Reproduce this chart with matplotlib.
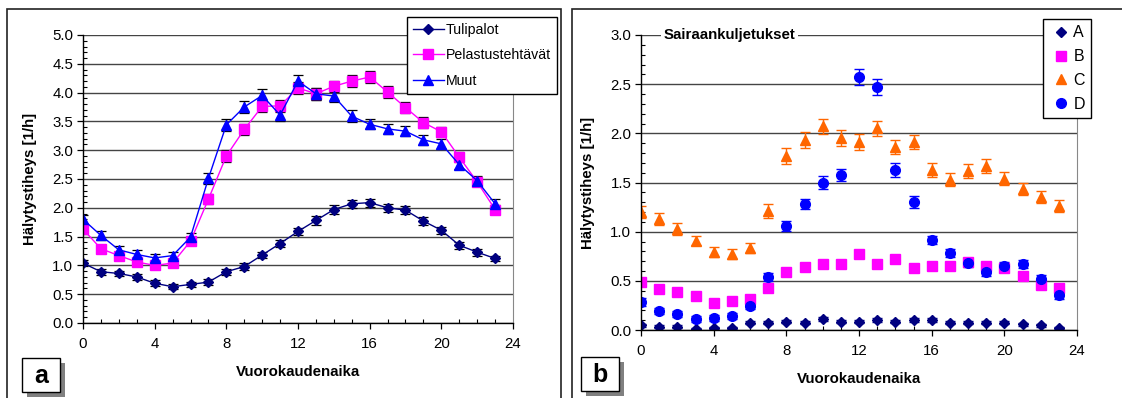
import numpy as np
import matplotlib
matplotlib.use("Agg")
import matplotlib.pyplot as plt
from matplotlib.patches import Rectangle
from matplotlib.ticker import MultipleLocator

plt.rcParams["font.family"] = ["Liberation Sans", "DejaVu Sans"]

W, H = 1122, 398

hours = list(range(24))

# hälytystiheys per tunti (a)
tulipalot = [1.04, 0.89, 0.86, 0.80, 0.69, 0.63, 0.67, 0.71, 0.89, 0.98, 1.18, 1.38,
             1.59, 1.78, 1.97, 2.07, 2.09, 2.00, 1.96, 1.77, 1.61, 1.35, 1.23, 1.12]
tulipalot_err = [0.05, 0.05, 0.05, 0.05, 0.05, 0.04, 0.05, 0.05, 0.05, 0.06, 0.06, 0.06,
                 0.06, 0.07, 0.07, 0.07, 0.07, 0.07, 0.07, 0.07, 0.06, 0.06, 0.06, 0.05]
pelastus = [1.63, 1.29, 1.17, 1.06, 1.00, 1.04, 1.42, 2.15, 2.90, 3.36, 3.76, 3.77,
            4.08, 3.98, 4.11, 4.20, 4.27, 4.01, 3.74, 3.48, 3.32, 2.88, 2.45, 1.97]
pelastus_err = [0.08, 0.07, 0.07, 0.06, 0.06, 0.06, 0.07, 0.09, 0.10, 0.10, 0.10, 0.10,
                0.10, 0.10, 0.10, 0.10, 0.11, 0.10, 0.10, 0.09, 0.09, 0.09, 0.08, 0.07]
muut = [1.80, 1.52, 1.27, 1.19, 1.13, 1.17, 1.49, 2.51, 3.44, 3.75, 3.95, 3.61,
        4.20, 3.98, 3.94, 3.59, 3.45, 3.37, 3.33, 3.18, 3.11, 2.75, 2.47, 2.07]
muut_err = [0.08, 0.08, 0.07, 0.07, 0.07, 0.07, 0.08, 0.10, 0.10, 0.10, 0.11, 0.10,
            0.11, 0.10, 0.10, 0.10, 0.09, 0.09, 0.09, 0.09, 0.09, 0.08, 0.08, 0.08]

# sairaankuljetukset kiireellisyysluokittain (b)
s_a = [0.05, 0.035, 0.035, 0.01, 0.025, 0.02, 0.075, 0.075, 0.085, 0.075, 0.11, 0.085,
       0.085, 0.10, 0.085, 0.10, 0.10, 0.075, 0.075, 0.075, 0.075, 0.06, 0.05, 0.02]
s_a_err = [0.015, 0.015, 0.015, 0.01, 0.01, 0.01, 0.015, 0.015, 0.015, 0.015, 0.02, 0.015,
           0.015, 0.02, 0.015, 0.02, 0.02, 0.015, 0.015, 0.015, 0.015, 0.015, 0.015, 0.01]
s_b = [0.49, 0.42, 0.39, 0.345, 0.275, 0.29, 0.32, 0.43, 0.59, 0.64, 0.67, 0.67,
       0.77, 0.67, 0.72, 0.63, 0.65, 0.65, 0.69, 0.65, 0.63, 0.55, 0.46, 0.43]
s_b_err = [0.04, 0.03, 0.03, 0.03, 0.03, 0.03, 0.03, 0.04, 0.04, 0.04, 0.04, 0.04,
           0.04, 0.04, 0.04, 0.04, 0.04, 0.04, 0.04, 0.04, 0.04, 0.04, 0.04, 0.04]
s_c = [1.20, 1.13, 1.03, 0.91, 0.79, 0.77, 0.83, 1.21, 1.77, 1.93, 2.07, 1.95,
       1.91, 2.05, 1.86, 1.91, 1.63, 1.53, 1.62, 1.67, 1.54, 1.43, 1.35, 1.26]
s_c_err = [0.06, 0.06, 0.06, 0.05, 0.05, 0.05, 0.05, 0.07, 0.08, 0.08, 0.08, 0.08,
           0.08, 0.08, 0.07, 0.07, 0.07, 0.07, 0.07, 0.07, 0.07, 0.06, 0.06, 0.06]
s_d = [0.285, 0.19, 0.165, 0.11, 0.125, 0.14, 0.245, 0.535, 1.06, 1.28, 1.50, 1.575,
       2.57, 2.47, 1.63, 1.30, 0.915, 0.78, 0.68, 0.59, 0.655, 0.667, 0.52, 0.355]
s_d_err = [0.04, 0.03, 0.03, 0.03, 0.03, 0.03, 0.03, 0.04, 0.05, 0.05, 0.07, 0.06,
           0.08, 0.08, 0.07, 0.06, 0.04, 0.04, 0.04, 0.04, 0.04, 0.04, 0.04, 0.04]

NAVY, MAGENTA, BLUE, ORANGE = "#000080", "#FF00FF", "#0000FF", "#FF6600"


def px_axes(fig, left, top, right, bottom):
    return fig.add_axes([left / W, 1 - bottom / H, (right - left) / W, (bottom - top) / H])


def style_axes(ax, ymax):
    ax.set_xlim(0, 24)
    ax.set_ylim(0, ymax)
    ax.xaxis.set_major_locator(MultipleLocator(4))
    ax.xaxis.set_minor_locator(MultipleLocator(1))
    ax.yaxis.set_major_locator(MultipleLocator(0.5))
    ax.yaxis.set_minor_locator(MultipleLocator(0.1))
    ax.yaxis.set_major_formatter(matplotlib.ticker.FormatStrFormatter("%.1f"))
    ax.tick_params(axis="both", which="major", direction="out", length=4, width=0.9,
                   labelsize=10.8, color="black")
    ax.tick_params(axis="x", which="major", pad=6)
    ax.tick_params(axis="y", which="major", pad=3)
    ax.tick_params(axis="both", which="minor", direction="in", length=3, width=0.8)
    ax.spines["top"].set_visible(False)
    ax.spines["right"].set_color("#888888")
    ax.spines["left"].set_linewidth(1.0)
    ax.spines["bottom"].set_linewidth(1.0)
    ax.grid(axis="y", which="major", color="#444444", linewidth=1.0)
    ax.set_axisbelow(True)
    ax.set_xlabel("Vuorokaudenaika", fontsize=10.8, fontweight="bold", labelpad=10)
    ax.set_ylabel("Hälytystiheys [1/h]", fontsize=10.8, fontweight="bold", labelpad=11)


def label_box(fig, x, y, text):
    w, h, off = 38, 34, 5
    fig.add_artist(Rectangle(((x + off) / W, 1 - (y + h + off) / H), w / W, h / H,
                             transform=fig.transFigure, facecolor="#808080", edgecolor="none"))
    fig.add_artist(Rectangle((x / W, 1 - (y + h) / H), w / W, h / H,
                             transform=fig.transFigure, facecolor="white", edgecolor="black",
                             linewidth=1.0))
    fig.text((x + w / 2) / W, 1 - (y + h / 2 + 1) / H, text, fontsize=18, fontweight="bold",
             ha="center", va="center")


fig = plt.figure(figsize=(W / 100, H / 100), dpi=100)

# panel frames
fig.add_artist(Rectangle((7 / W, -0.1), (561 - 7) / W, 1.1 - 9 / H, transform=fig.transFigure,
                         facecolor="none", edgecolor="#222222", linewidth=1.2))
fig.add_artist(Rectangle((572 / W, -0.1), 0.6, 1.1 - 9 / H, transform=fig.transFigure,
                         facecolor="none", edgecolor="#222222", linewidth=1.2))

# (a) tulipalot, pelastustehtävät, muut
ax1 = px_axes(fig, 83, 35, 513, 323)
style_axes(ax1, 5.0)
ax1.errorbar(hours, tulipalot, yerr=tulipalot_err, color=NAVY, marker="D", markersize=5.5,
             linewidth=1.0, ecolor="black", elinewidth=0.9, capsize=3.5, capthick=0.9,
             label="Tulipalot")
ax1.errorbar(hours, pelastus, yerr=pelastus_err, color=MAGENTA, marker="s", markersize=7,
             linewidth=1.0, ecolor="black", elinewidth=0.9, capsize=3.5, capthick=0.9,
             label="Pelastustehtävät")
ax1.errorbar(hours, muut, yerr=muut_err, color=BLUE, marker="^", markersize=7.5,
             linewidth=1.0, ecolor="black", elinewidth=0.9, capsize=3.5, capthick=0.9,
             label="Muut")
h1, l1 = ax1.get_legend_handles_labels()
leg1 = ax1.legend([h[0] for h in h1], l1, loc="upper left",
                  bbox_to_anchor=(407 / W, 1 - 17 / H), bbox_transform=fig.transFigure,
                  fontsize=10.2, frameon=True, fancybox=False, framealpha=1,
                  edgecolor="black", borderpad=0.4, labelspacing=0.82,
                  handlelength=2.2, handletextpad=0.15, borderaxespad=0)
leg1.get_frame().set_linewidth(1.0)
leg1.set_zorder(10)

# (b) sairaankuljetukset
ax2 = px_axes(fig, 641, 35, 1077, 330)
style_axes(ax2, 3.0)
for vals, errs, col, mk, ms, name in [
    (s_a, s_a_err, NAVY, "D", 5.5, "A"),
    (s_b, s_b_err, MAGENTA, "s", 7, "B"),
    (s_c, s_c_err, ORANGE, "^", 7.5, "C"),
    (s_d, s_d_err, BLUE, "o", 7, "D"),
]:
    ax2.errorbar(hours, vals, yerr=errs, color=col, marker=mk, markersize=ms, linestyle="none",
                 elinewidth=1.0, capsize=3.5, capthick=1.0, label=name)
h2, l2 = ax2.get_legend_handles_labels()
leg2 = ax2.legend([h[0] for h in h2], l2, loc="upper left",
                  bbox_to_anchor=(1043 / W, 1 - 19 / H), bbox_transform=fig.transFigure,
                  fontsize=11.5, frameon=True, fancybox=False, framealpha=1,
                  edgecolor="black", borderpad=0.4, labelspacing=0.55,
                  handlelength=1.4, handletextpad=0.1, borderaxespad=0, numpoints=1)
leg2.get_frame().set_linewidth(1.0)
leg2.set_zorder(10)
ax2.text(1.25, 3.0, "Sairaankuljetukset", fontsize=10.8, fontweight="bold", ha="left",
         va="center", zorder=5,
         bbox=dict(facecolor="white", edgecolor="none", pad=2))

label_box(fig, 22, 358, "a")
label_box(fig, 581, 357, "b")

fig.savefig("out.png", dpi=100)
